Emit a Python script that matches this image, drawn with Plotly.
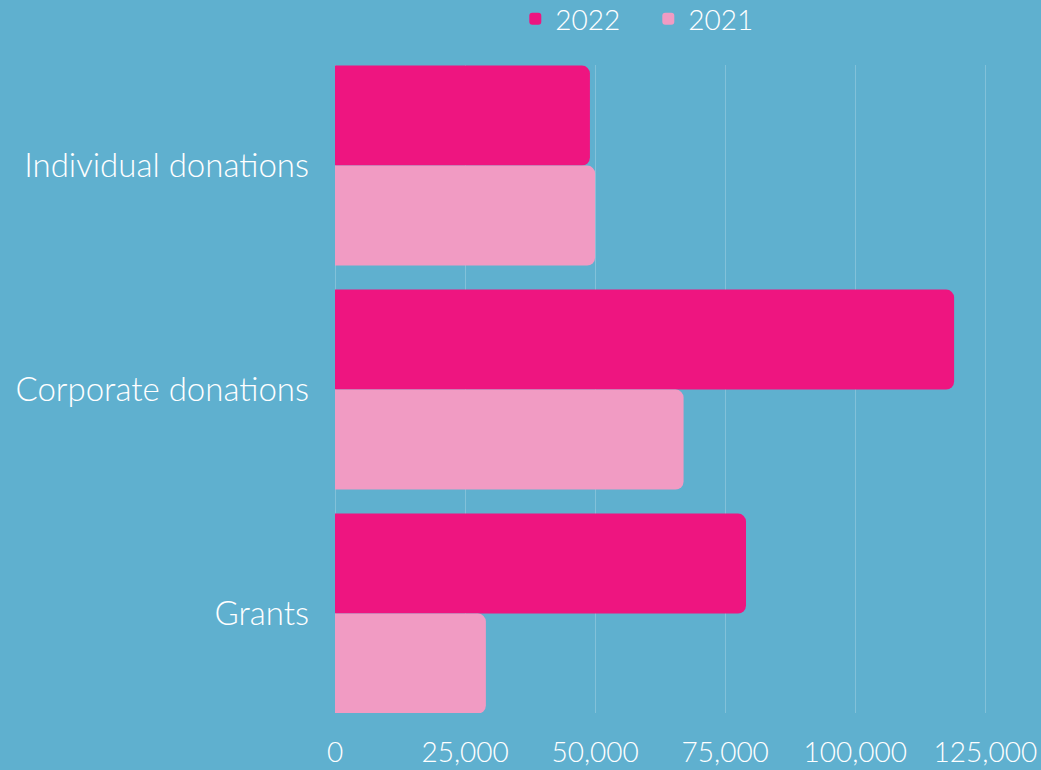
import plotly.graph_objects as go

categories = ["Individual donations", "Corporate donations", "Grants"]
values_2022 = [49000, 119000, 79000]
values_2021 = [50000, 67000, 29000]
tick_vals = [0, 25000, 50000, 75000, 100000, 125000]
tick_text = ["0", "25,000", "50,000", "75,000", "100,000", "125,000"]

BG = "#5fb0cf"
C2022 = "#ee1580"
C2021 = "#f19bc3"
FONT = "Lato"

fig = go.Figure()
fig.add_trace(go.Bar(
    y=categories, x=values_2022, orientation="h", name="2022",
    marker=dict(color=C2022, line=dict(width=0), cornerradius=8),
))
fig.add_trace(go.Bar(
    y=categories, x=values_2021, orientation="h", name="2021",
    marker=dict(color=C2021, line=dict(width=0), cornerradius=8),
))

fig.update_layout(
    width=1041, height=770,
    paper_bgcolor=BG, plot_bgcolor=BG,
    margin=dict(l=335, r=0, t=65, b=57),
    barmode="group", bargap=0.107, bargroupgap=0.0,
    font=dict(family=FONT, color="white", weight=300),
    showlegend=True,
    legend=dict(
        orientation="h", xref="container", yref="container",
        x=0.495, xanchor="left", y=0.9753, yanchor="middle",
        font=dict(size=28, color="white", family=FONT, weight=300),
        bgcolor="rgba(0,0,0,0)", itemwidth=30,
        entrywidth=88, entrywidthmode="pixels",
    ),
    xaxis=dict(
        range=[0, 135700], tickvals=tick_vals, ticktext=tick_text,
        showgrid=True, gridcolor="rgba(255,255,255,0.22)", gridwidth=1,
        zeroline=True, zerolinecolor="rgba(255,255,255,0.22)", zerolinewidth=1,
        showline=False, ticks="", ticklabelstandoff=20,
        tickfont=dict(size=28, color="white", family=FONT, weight=300),
    ),
    yaxis=dict(
        range=[2.444, -0.449], showgrid=False, zeroline=False, showline=False,
        ticks="", ticklabelstandoff=25,
        tickfont=dict(size=33, color="white", family=FONT, weight=300),
    ),
)

fig.write_html(
    "out.html",
    config={"displayModeBar": False},
    post_script="document.body.style.margin='0';document.body.style.background='" + BG + "';",
)
